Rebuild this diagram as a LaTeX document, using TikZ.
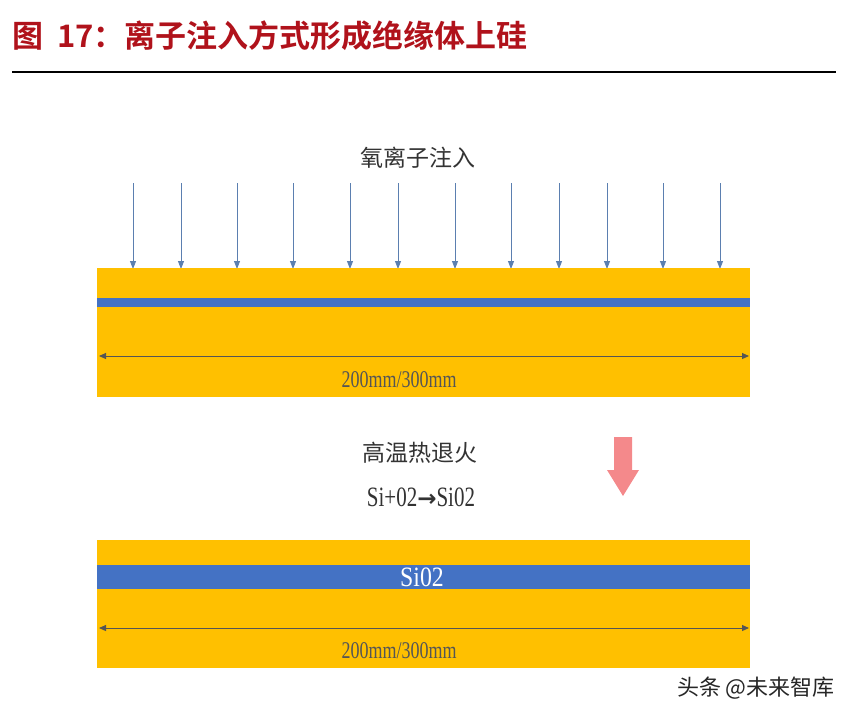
\documentclass[tikz,border=0pt]{standalone}
\usepackage{fontspec}
\setmainfont{Liberation Serif}
\newfontfamily\cjk{Noto Sans CJK SC}
\newfontfamily\cjkb{Noto Sans CJK SC}[BoldFont={* Bold}]
\newfontfamily\narrow{Liberation Serif}[FakeStretch=0.75]
\newfontfamily\halfnarrow{Liberation Serif}[FakeStretch=0.85]
\newfontfamily\symb{DejaVu Sans}
\usepackage{tikz}
\usetikzlibrary{calc,arrows.meta}
\definecolor{wafer}{HTML}{FFC000}
\definecolor{oxide}{HTML}{4472C4}
\definecolor{ionblue}{HTML}{5B7FB0}
\definecolor{dimgray}{HTML}{555555}
\definecolor{titlered}{HTML}{B0121B}
\definecolor{heatpink}{HTML}{F4898B}
\tikzset{
  ion/.style={draw=ionblue, line width=0.9pt, -{Triangle[length=8pt,width=6pt]}},
  dimline/.style={draw=dimgray, line width=1pt, {Triangle[length=7pt,width=6pt]}-{Triangle[length=7pt,width=6pt]}},
  dimtext/.style={text=dimgray, font=\narrow\fontsize{24}{24}\selectfont},
  label/.style={text=black!80, font=\cjk\fontsize{23}{23}\selectfont}
}
\begin{document}
\begin{tikzpicture}[x=1pt,y=-1pt]
\useasboundingbox (0,0) rectangle (848,716);
% title
\node (title) [anchor=west, text=titlered, font=\cjkb\bfseries\fontsize{31}{31}\selectfont, inner sep=0] at (12,36) {图\hspace{14pt}17：离子注入方式形成绝缘体上硅};
\draw[line width=2pt] (12,72) -- (836,72);
% oxygen implantation
\node (implant) [label] at (418,158) {氧离子注入};
\foreach \x [count=\i] in {133,181,237,293,350,398,455,511,559,607,663,720} {
  \coordinate (ion\i a) at (\x,183);
  \coordinate (ion\i b) at (\x,269);
  \draw[ion] (ion\i a) -- (ion\i b);
}
% upper wafer
\fill[wafer] (97,268) rectangle (750,397);
\fill[oxide] (97,298) rectangle (750,307);
\coordinate (dimAl) at (99,356);
\coordinate (dimAr) at (749,356);
\draw[dimline] (dimAl) -- (dimAr);
\node (sizeA) [dimtext] at (399,380) {200mm/300mm};
% annealing
\node (anneal) [label] at (420,453) {高温热退火};
\node (reaction) [text=black!80, font=\narrow\fontsize{28}{28}\selectfont] at (421,497) {Si+02{\symb\bfseries\fontsize{23}{23}\selectfont →}Si02};
\fill[heatpink] (614,437) -- (632,437) -- (632,470) -- (639,470) -- (623,496) -- (607,470) -- (614,470) -- cycle;
% lower wafer
\fill[wafer] (97,540) rectangle (750,668);
\fill[oxide] (97,565) rectangle (750,589);
\node (oxlabel) [text=white, font=\halfnarrow\fontsize{28}{28}\selectfont] at (422,577) {Si02};
\coordinate (dimBl) at (99,628);
\coordinate (dimBr) at (749,628);
\draw[dimline] (dimBl) -- (dimBr);
\node (sizeB) [dimtext] at (399,651) {200mm/300mm};
% watermark
\node (mark) [anchor=east, text=black!85, font=\cjk\fontsize{22}{22}\selectfont, inner sep=0] at (835,688) {头条 @未来智库};
\end{tikzpicture}
\end{document}
